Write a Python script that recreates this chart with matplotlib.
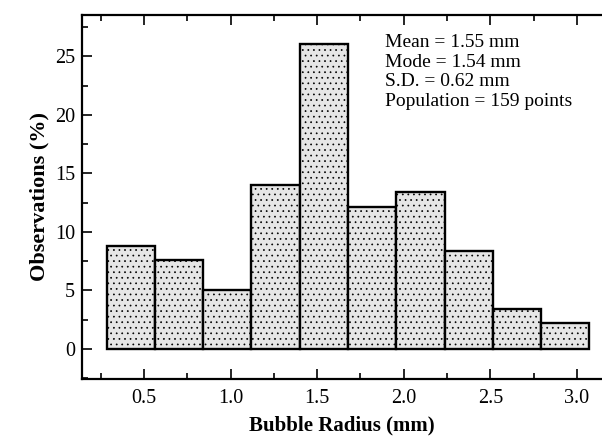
import numpy as np
from matplotlib import pyplot as plt
from matplotlib.ticker import MultipleLocator

# histogram of bubble radii
bin_left = 0.285
bin_width = 0.2786
observations = [8.8, 7.6, 5.0, 14.0, 26.1, 12.1, 13.4, 8.4, 3.4, 2.2]
stats_lines = [
    "Mean = 1.55 mm",
    "Mode = 1.54 mm",
    "S.D. = 0.62 mm",
    "Population = 159 points",
]

plt.rcParams["font.family"] = ["Liberation Serif", "DejaVu Serif"]
plt.rcParams["hatch.color"] = "#a0a0a0"
plt.rcParams["hatch.linewidth"] = 0.5

fig = plt.figure(figsize=(6.02, 4.38), dpi=100)
ax = fig.add_axes([0.136, 0.135, 0.864, 0.831])

edges = bin_left + bin_width * np.arange(len(observations))
ax.bar(edges, observations, width=bin_width, align="edge",
       facecolor="#e6e6e6", edgecolor="black", linewidth=1.7,
       hatch="...", zorder=2)

ax.set_xlim(0.142, 3.144)
ax.set_ylim(-2.56, 28.55)

ax.xaxis.set_minor_locator(MultipleLocator(0.25))
ax.yaxis.set_minor_locator(MultipleLocator(2.5))
ax.set_xticks([0.5, 1.0, 1.5, 2.0, 2.5, 3.0])
ax.set_yticks([0, 5, 10, 15, 20, 25])

ax.tick_params(which="both", direction="in", top=True, right=False,
               width=1.2, labelsize=14.5)
ax.tick_params(which="major", length=7)
ax.tick_params(which="minor", length=4)
ax.tick_params(axis="x", pad=7)
ax.tick_params(axis="y", pad=5)

for side in ["left", "top", "bottom"]:
    ax.spines[side].set_linewidth(1.6)
ax.spines["right"].set_visible(False)

ax.set_xlabel("Bubble Radius (mm)", fontsize=15, fontweight="bold", labelpad=6)
ax.set_ylabel("Observations (%)", fontsize=16, fontweight="bold", labelpad=4)

ax.text(1.891, 26.9, "\n".join(stats_lines), fontsize=14, va="top",
        ha="left", linespacing=1.2)

fig.savefig("out.png", dpi=100)
